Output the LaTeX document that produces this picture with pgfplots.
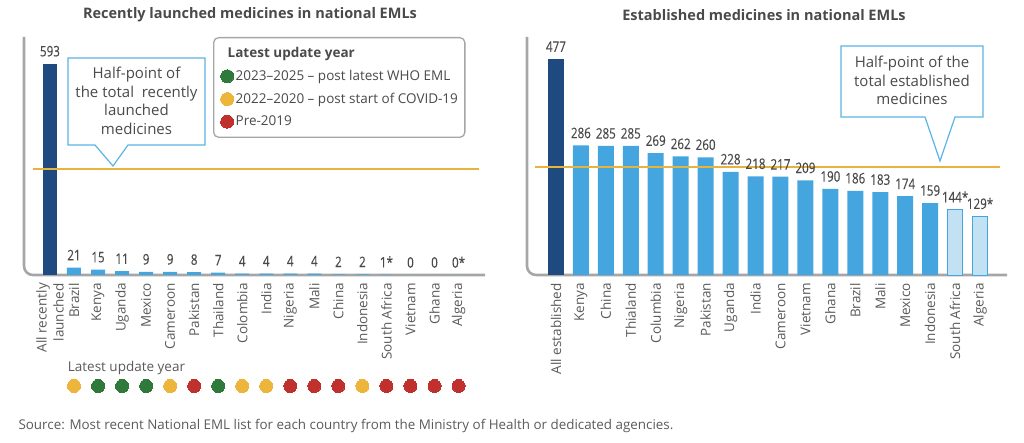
\documentclass[border=0pt]{standalone}
\usepackage{pgfplots}
\pgfplotsset{compat=1.18}
\usepackage{pgfplotstable}
\usepackage{fontspec}
\setmainfont{Open Sans}
\newfontfamily\condfont{Open Sans}[FakeStretch=0.8, FakeBold=0.3]

\definecolor{textgray}{HTML}{4A4A4A}
\definecolor{tickgray}{HTML}{5A5A5A}
\definecolor{darkbar}{HTML}{1E4A7F}
\definecolor{midbar}{HTML}{45A6DF}
\definecolor{lightbar}{HTML}{C2E2F4}
\definecolor{axisgray}{HTML}{A6A6A6}
\definecolor{callout}{HTML}{5AB4E6}
\definecolor{halfline}{HTML}{E6B43C}
\definecolor{dotgreen}{HTML}{2F7A3A}
\definecolor{dotyellow}{HTML}{EDB53C}
\definecolor{dotred}{HTML}{C0302D}

\pgfplotstableread{
x y lab
0 593 593
}\lefttotal
\pgfplotstableread{
x y lab
1 21 21
2 15 15
3 11 11
4 9 9
5 9 9
6 8 8
7 7 7
8 4 4
9 4 4
10 4 4
11 4 4
12 2 2
13 2 2
14 1 1*
15 0 0
16 0 0
17 0 0*
}\leftcountries
\pgfplotstableread{
x y
2 -311.5
3 -311.5
4 -311.5
7 -311.5
}\dotsgreen
\pgfplotstableread{
x y
1 -311.5
5 -311.5
8 -311.5
9 -311.5
13 -311.5
}\dotsyellow
\pgfplotstableread{
x y
6 -311.5
10 -311.5
11 -311.5
12 -311.5
14 -311.5
15 -311.5
16 -311.5
17 -311.5
}\dotsred

\pgfplotstableread{
x y lab
0 477 477
}\righttotal
\pgfplotstableread{
x y lab
1 286 286
2 285 285
3 285 285
4 269 269
5 262 262
6 260 260
7 228 228
8 218 218
9 217 217
10 209 209
11 190 190
12 186 186
13 183 183
14 174 174
15 159 159
}\rightcountries
\pgfplotstableread{
x y lab
16 144 144*
17 129 129*
}\rightstar

\pgfplotsset{
  emlaxis/.style={
    scale only axis, height=238pt,
    ymin=0,
    axis lines*=left, axis line style={draw=none},
    ytick=\empty, xtick={0,...,17},
    major tick length=0pt,
    xticklabel style={rotate=90, anchor=east, align=right,
      font=\fontsize{13.5}{17}\selectfont, text=tickgray, inner sep=0pt},
    xticklabel shift=8pt,
    clip=false,
    nodes near coords style={font=\condfont\fontsize{14.5}{15}\selectfont,
      text=textgray, anchor=south, inner sep=0pt, yshift=7pt},
  },
  barplot/.style={ybar, bar shift=0pt, nodes near coords,
    point meta=explicit symbolic, forget plot},
}

\begin{document}
\begin{tikzpicture}[x=1pt,y=1pt]
\useasboundingbox (0,0) rectangle (1024,-443);

% titles
\node[font=\bfseries\fontsize{14.5}{17}\selectfont, text=textgray] at (250,-15) {Recently launched medicines in national EMLs};
\node[font=\bfseries\fontsize{14.5}{17}\selectfont, text=textgray] at (764,-15) {Established medicines in national EMLs};

% LEFT
\begin{axis}[emlaxis,
  at={(24pt,-275pt)}, anchor=south west, width=461pt,
  xmin=-1.08, xmax=18.1, ymax=668,
  xticklabels={{All recently\\launched},Brazil,Kenya,Uganda,Mexico,Cameroon,Pakistan,Thailand,Colombia,India,Nigeria,Mali,China,Indonesia,South Africa,Vietnam,Ghana,Algeria},
  legend style={at={(0.41,1)}, anchor=north west, draw=axisgray, line width=1.3pt,
    rounded corners=5pt, font=\fontsize{13.5}{16}\selectfont, text=textgray,
    inner xsep=5pt, inner ysep=8pt, row sep=7pt, fill=white},
  legend cell align=left,
]
\draw[axisgray, line width=2.6pt, rounded corners=9pt] (rel axis cs:0,1) -- (rel axis cs:0,0) -- (rel axis cs:1,0);
\addplot[barplot, bar width=14pt, fill=darkbar, draw=none] table[x=x, y=y, meta=lab] {\lefttotal};
\addplot[barplot, bar width=14pt, fill=midbar, draw=none] table[x=x, y=y, meta=lab] {\leftcountries};
\addplot[draw=halfline, line width=1.8pt, forget plot, mark=none] coordinates {(-0.71,298.5) (17.83,298.5)};
\addlegendimage{empty legend}
\addplot[only marks, mark=*, mark size=6.5pt, color=dotgreen, mark options={line width=0pt}] table[x=x, y=y] {\dotsgreen};
\addplot[only marks, mark=*, mark size=6.5pt, color=dotyellow, mark options={line width=0pt}] table[x=x, y=y] {\dotsyellow};
\addplot[only marks, mark=*, mark size=6.5pt, color=dotred, mark options={line width=0pt}] table[x=x, y=y] {\dotsred};
\legend{{\hspace*{-8pt}\bfseries Latest update year}, {2023–2025 – post latest WHO EML}, {2022–2020 – post start of COVID-19}, {Pre-2019}}
\node[anchor=west, font=\fontsize{13.5}{16}\selectfont, text=tickgray] at (axis cs:0.6,-261) {Latest update year};
\end{axis}

% RIGHT
\begin{axis}[emlaxis,
  at={(527pt,-275pt)}, anchor=south west, width=480pt,
  xmin=-1.16, xmax=18.08, ymax=525.6,
  xticklabels={All established,Kenya,China,Thialand,Columbia,Nigeria,Pakistan,Uganda,India,Cameroon,Vietnam,Ghana,Brazil,Mali,Mexico,Indonesia,South Africa,Algeria},
]
\draw[axisgray, line width=2.6pt, rounded corners=9pt] (rel axis cs:0,1) -- (rel axis cs:0,0) -- (rel axis cs:1,0);
\addplot[barplot, bar width=16pt, fill=darkbar, draw=none] table[x=x, y=y, meta=lab] {\righttotal};
\addplot[barplot, bar width=16pt, fill=midbar, draw=none] table[x=x, y=y, meta=lab] {\rightcountries};
\addplot[barplot, bar width=15pt, fill=lightbar, draw=midbar, line width=1pt] table[x=x, y=y, meta=lab] {\rightstar};
\addplot[draw=halfline, line width=1.8pt, forget plot, mark=none] coordinates {(-0.84,238.5) (17.8,238.5)};
\end{axis}

% callouts
\draw[callout, line width=1.2pt, fill=white] (68,-58) -- (205,-58) -- (205,-145) -- (128,-145) -- (113,-166) -- (95,-145) -- (68,-145) -- cycle;
\node[align=center, font=\fontsize{15}{18.5}\selectfont, text=textgray] at (136.5,-101) {Half-point of\\the total\ \ recently\\launched\\medicines};
\draw[callout, line width=1.2pt, fill=white] (841,-46) -- (983,-46) -- (983,-117) -- (955,-117) -- (940,-161) -- (925,-117) -- (841,-117) -- cycle;
\node[align=center, font=\fontsize{15}{18.5}\selectfont, text=textgray] at (912,-80.5) {Half-point of the\\total established\\medicines};

% source
\node[anchor=west, font=\fontsize{13.4}{15}\selectfont, text=tickgray] at (15,-426) {Source: Most recent National EML list for each country from the Ministry of Health or dedicated agencies.};
\end{tikzpicture}
\end{document}
